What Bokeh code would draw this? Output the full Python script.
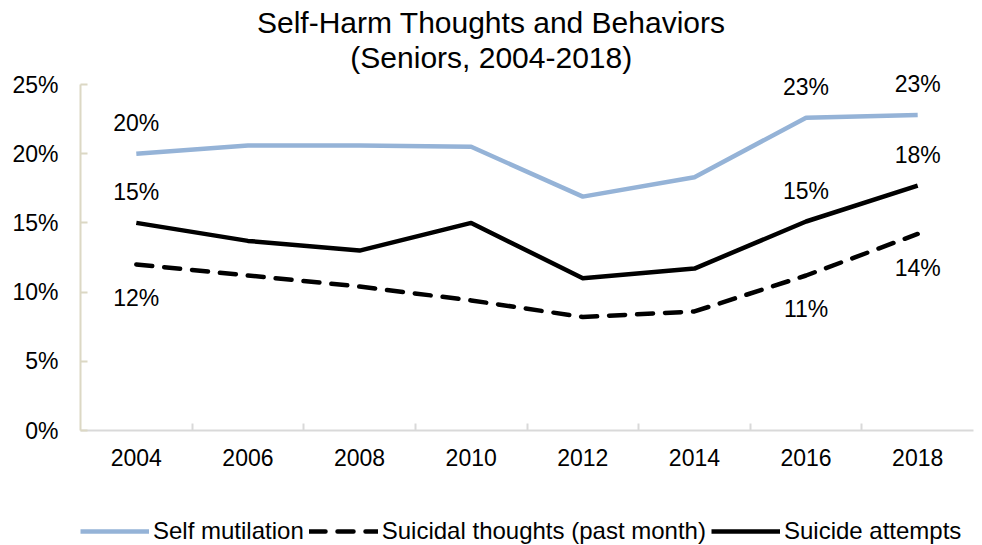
from bokeh.plotting import figure
from bokeh.layouts import column
from bokeh.models import (FactorRange, Range1d, LinearAxis, CategoricalAxis, FixedTicker,
                          PrintfTickFormatter, ColumnDataSource, LabelSet, Label, Legend, LegendItem)
from bokeh.core.properties import value
from bokeh.embed import file_html
from bokeh.resources import INLINE

# ---- data ----
years = ["2004", "2006", "2008", "2010", "2012", "2014", "2016", "2018"]
self_mutilation = [20.0, 20.6, 20.6, 20.5, 16.9, 18.3, 22.6, 22.8]
suicidal_thoughts = [12.0, 11.2, 10.4, 9.4, 8.2, 8.6, 11.2, 14.2]
suicide_attempts = [15.0, 13.7, 13.0, 15.0, 11.0, 11.7, 15.1, 17.7]
labeled_years = ["2004", "2016", "2018"]
y_ticks = [0, 5, 10, 15, 20, 25]
series_names = ["Self mutilation", "Suicidal thoughts (past month)", "Suicide attempts"]
title_lines = ["Self-Harm Thoughts and Behaviors", "(Seniors, 2004-2018)"]

FONT = "Liberation Sans"
BLUE = "#95b3d7"
W = 982
H_CHART, H_LEGEND = 503, 42
FRAME_BOTTOM = 430      # px from top
Y_MAX = 25
Y_TOP_PX = 84           # pixel position of the 25% tick
y_end = Y_MAX * FRAME_BOTTOM / (FRAME_BOTTOM - Y_TOP_PX)   # frame reaches the top of the canvas

styles = [dict(line_color=BLUE, line_width=4.5, line_join="round"),
          dict(line_color="black", line_width=4.5, line_dash="16 12", line_cap="round", line_join="round"),
          dict(line_color="black", line_width=4.5, line_join="round")]

p = figure(width=W, height=H_CHART, x_range=FactorRange(*years), y_range=Range1d(0, y_end),
           output_backend="svg", toolbar_location=None,
           x_axis_location=None, y_axis_location=None,
           min_border_left=80, min_border_right=9, min_border_top=0,
           min_border_bottom=H_CHART - FRAME_BOTTOM)
p.outline_line_color = None
p.ygrid.grid_line_color = None
p.background_fill_color = "white"
p.border_fill_color = "white"

# short tick marks between categories, drawn as dashed grid lines starting at the bottom
p.xgrid.ticker = FixedTicker(ticks=list(range(1, len(years) + 1)))
p.xgrid.grid_line_color = "#d9d9d9"
p.xgrid.grid_line_width = 2
p.xgrid.grid_line_dash = "7 3000"

# y axis
yax = LinearAxis(ticker=FixedTicker(ticks=y_ticks), formatter=PrintfTickFormatter(format="%d%%"),
                 bounds=(0, Y_MAX))
yax.axis_line_color = "#dcd8c4"
yax.axis_line_width = 2
yax.major_tick_line_color = "#dcd8c4"
yax.major_tick_line_width = 2
yax.major_tick_in = 7
yax.major_tick_out = 0
yax.minor_tick_line_color = None
yax.major_label_standoff = 22
yax.major_label_text_font = FONT
yax.major_label_text_font_size = "23px"
yax.major_label_text_color = "black"
p.add_layout(yax, "left")

# x axis
xax = CategoricalAxis()
xax.axis_line_color = "#d9d9d9"
xax.axis_line_width = 2
xax.major_tick_line_color = None
xax.minor_tick_line_color = None
xax.major_tick_in = 0
xax.major_tick_out = 0
xax.major_label_standoff = 18
xax.major_label_text_font = FONT
xax.major_label_text_font_size = "23px"
xax.major_label_text_color = "black"
p.add_layout(xax, "below")

src = ColumnDataSource(dict(x=years, sm=self_mutilation, st=suicidal_thoughts, sa=suicide_attempts))
for col, st in zip(("sm", "st", "sa"), styles):
    p.line("x", col, source=src, **st)

# data labels
idx = [years.index(y) for y in labeled_years]
lab = ColumnDataSource(dict(
    x=[years[i] for i in idx],
    sm=[self_mutilation[i] for i in idx],
    st=[suicidal_thoughts[i] for i in idx],
    sa=[suicide_attempts[i] for i in idx],
    sm_t=["%d%%" % int(self_mutilation[i] + 0.5) for i in idx],
    st_t=["%d%%" % int(suicidal_thoughts[i] + 0.5) for i in idx],
    sa_t=["%d%%" % int(suicide_attempts[i] + 0.5) for i in idx],
))
for col, off in (("sm", 31), ("sa", 31), ("st", -34)):
    ls = LabelSet(x="x", y=col, text=col + "_t", source=lab, y_offset=off,
                  text_align="center", text_baseline="middle",
                  text_font=value(FONT), text_font_size=value("23px"), text_color="black")
    p.add_layout(ls)

# title (two lines, centred on the whole chart)
for txt, yy in zip(title_lines, (29.48, 26.95)):
    p.add_layout(Label(x=3.68, y=yy, text=txt, text_align="center", text_baseline="middle",
                       text_font=FONT, text_font_size="30px", text_color="black"))

# legend strip: same series, drawn outside its (negative) y range so only the legend shows
lg = figure(width=W, height=H_LEGEND, x_range=p.x_range, y_range=Range1d(-2, -1),
            output_backend="svg", toolbar_location=None,
            x_axis_location=None, y_axis_location=None,
            min_border_left=80, min_border_right=9, min_border_top=0, min_border_bottom=0)
lg.outline_line_color = None
lg.xgrid.grid_line_color = None
lg.ygrid.grid_line_color = None
items = []
for name, col, st in zip(series_names, ("sm", "st", "sa"), styles):
    r = lg.line("x", col, source=src, **st)
    items.append(LegendItem(label=name, renderers=[r]))
legend = Legend(items=items, orientation="horizontal", location=(0, 0))
legend.padding = 0
legend.margin = 0
legend.spacing = 5
legend.label_standoff = 4
legend.glyph_width = 69
legend.glyph_height = 20
legend.label_height = 26
legend.label_text_font = FONT
legend.label_text_font_size = "24px"
legend.label_text_color = "black"
legend.border_line_color = None
legend.background_fill_alpha = 0
lg.add_layout(legend, "center")

layout = column(p, lg, spacing=0)
open("out.html", "w").write(file_html(layout, INLINE))
